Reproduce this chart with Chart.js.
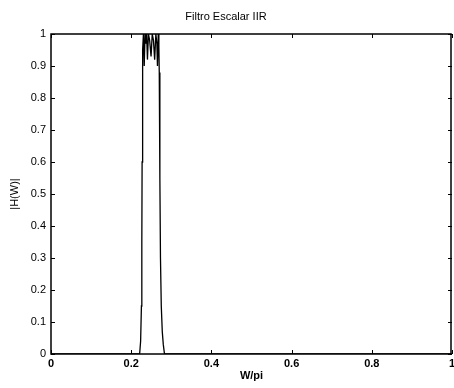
<!DOCTYPE html>
<html>
<head>
<meta charset="utf-8">
<script src="https://cdn.jsdelivr.net/npm/chart.js@4.4.1/dist/chart.umd.min.js"></script>
<style>
html,body{margin:0;padding:0;background:#fff;}
#wrap{width:454px;height:388px;}
</style>
</head>
<body>
<div id="wrap"><canvas id="c" width="454" height="388"></canvas></div>
<script>
// Normalized frequency (W/pi) and magnitude |H(W)|
const freq = [0, 0.221, 0.2235, 0.2255, 0.2265, 0.2272, 0.2280, 0.2290, 0.2305,
  0.2325, 0.2345, 0.2365, 0.2385, 0.2405, 0.2430, 0.2460, 0.2495, 0.2525, 0.2555,
  0.2585, 0.2615, 0.2640, 0.2655, 0.2675, 0.2690, 0.2700, 0.2715, 0.2730, 0.2750,
  0.2775, 0.2800, 0.2830, 1];
const mag = [0, 0, 0.04, 0.15, 0.35, 0.6, 0.85, 0.95, 1.0,
  0.90, 1.0, 0.97, 1.0, 0.92, 1.0, 0.98, 0.93, 1.0, 0.98,
  0.92, 1.0, 0.97, 0.90, 1.0, 0.96, 0.88, 0.55, 0.30, 0.15,
  0.07, 0.03, 0, 0];
const xTicks = [0, 0.2, 0.4, 0.6, 0.8, 1];
const yTicks = [0, 0.1, 0.2, 0.3, 0.4, 0.5, 0.6, 0.7, 0.8, 0.9, 1];
const titleText = 'Filtro Escalar IIR';
const xTitle = 'W/pi';
const yTitle = '|H(W)|';

const points = freq.map((f, i) => ({x: f, y: mag[i]}));
const FONT = {family: '"Liberation Sans", Arial, Helvetica, sans-serif', size: 11};

const frame = {
  id: 'frame',
  afterDraw(chart) {
    const {ctx, chartArea: a, scales: {x, y}} = chart;
    ctx.save();
    ctx.strokeStyle = '#000';
    ctx.lineWidth = 1.5;
    ctx.strokeRect(Math.round(a.left), Math.round(a.top),
      Math.round(a.right - a.left) - 1, Math.round(a.bottom - a.top));
    ctx.lineWidth = 1;
    ctx.beginPath();
    const tl = 4;
    xTicks.forEach(v => {
      const px = Math.round(x.getPixelForValue(v)) + 0.5;
      ctx.moveTo(px, a.bottom); ctx.lineTo(px, a.bottom - tl);
      ctx.moveTo(px, a.top); ctx.lineTo(px, a.top + tl);
    });
    yTicks.forEach(v => {
      const py = Math.round(y.getPixelForValue(v)) + 0.5;
      ctx.moveTo(a.left, py); ctx.lineTo(a.left + tl, py);
      ctx.moveTo(a.right, py); ctx.lineTo(a.right - tl, py);
    });
    ctx.stroke();
    ctx.restore();
  }
};

new Chart(document.getElementById('c'), {
  type: 'line',
  data: {
    datasets: [{
      data: points,
      borderColor: '#000',
      borderWidth: 1.3,
      pointRadius: 0,
      tension: 0,
      fill: false
    }]
  },
  options: {
    responsive: false,
    animation: false,
    events: [],
    layout: {padding: {left: 0, right: 2, top: 0, bottom: 0}},
    plugins: {
      legend: {display: false},
      tooltip: {enabled: false},
      title: {
        display: true,
        text: titleText,
        color: '#000',
        font: {...FONT, weight: 'normal'},
        padding: {top: 10, bottom: 10.8}
      }
    },
    scales: {
      x: {
        type: 'linear',
        min: 0, max: 1,
        afterBuildTicks(s) { s.ticks = xTicks.map(v => ({value: v})); },
        afterFit(s) { s.height = 34; s.paddingLeft = 0; s.paddingRight = 0; },
        grid: {display: false, drawTicks: false},
        border: {display: false},
        ticks: {color: '#000', font: {...FONT, weight: 'bold'}, padding: 3, maxRotation: 0,
          callback: v => String(v)},
        title: {display: true, text: xTitle, color: '#000', font: {...FONT, weight: 'bold'},
          padding: {top: 0, bottom: 5}}
      },
      y: {
        type: 'linear',
        min: 0, max: 1,
        afterBuildTicks(s) { s.ticks = yTicks.map(v => ({value: v})); },
        afterFit(s) { s.width = 51; s.paddingTop = 0; s.paddingBottom = 0; },
        grid: {display: false, drawTicks: false},
        border: {display: false},
        ticks: {color: '#000', font: FONT, padding: 5,
          callback: v => String(v)},
        title: {display: true, text: yTitle, color: '#000', font: FONT,
          padding: {top: 8, bottom: 0}}
      }
    }
  },
  plugins: [frame]
});
</script>
</body>
</html>
